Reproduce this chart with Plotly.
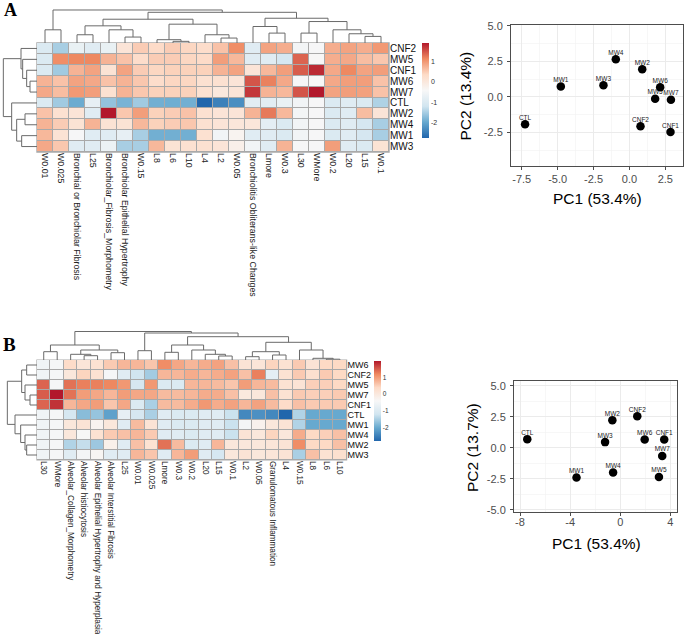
import plotly.graph_objects as go

W, H = 685, 634

# ---------------- data ----------------
a_cols = ["W0.01", "W0.025", "Bronchial or Bronchiolar Fibrosis", "L25",
          "Bronchiolar_Fibrosis_Morphometry", "Bronchiolar Epithelial Hypertrophy",
          "W0.15", "L8", "L6", "L10", "L4", "L2", "W0.05",
          "Bronchiolitis Obliterans-like Changes", "Lmore", "W0.3", "L30", "WMore",
          "W0.2", "L20", "L15", "W0.1"]
a_rows = ["CNF2", "MW5", "CNF1", "MW6", "MW7", "CTL", "MW2", "MW4", "MW1", "MW3"]
a_values = [
    [-1.0, -1.5, -0.7, -0.9, -0.7, 0.1, 0.5, 0.35, 0.5, 0.4, 0.3, 0.6, 1.1, -0.9, 0.9, 0.8, -0.5, -0.45, 0.8, 0.9, 0.8, 1.0],
    [-1.0, 1.1, 1.15, 1.15, 0.75, 0.6, 0.3, 0.5, 0.5, 0.4, 0.35, 0.95, 0.7, -0.9, -0.9, -1.1, 1.4, -0.4, 0.8, 0.85, 0.65, 0.55],
    [-1.0, -1.55, 0.75, 0.9, 0.15, 0.9, 0.5, 0.4, 0.45, 0.45, 0.45, 0.75, 0.9, 0.1, 0.7, 0.95, 1.45, 1.8, 0.85, 1.15, 0.9, 0.95],
    [0.75, 0.6, 0.9, 0.85, 0.6, 0.75, 0.55, 0.3, 0.4, 0.4, 0.2, 0.2, 0.1, 1.5, 1.2, 0.85, -0.45, -0.4, 0.85, 0.95, 0.95, 0.6],
    [0.85, 0.65, 1.0, 0.95, 0.2, 0.75, 0.55, 0.45, 0.45, 0.45, 0.2, 0.0, 0.1, 1.7, 0.75, 0.7, 1.5, 1.92, 0.9, 0.95, 0.92, 0.6],
    [-1.0, -1.55, -1.95, -0.75, -1.65, -1.85, -1.55, -1.9, -1.92, -1.9, -2.76, -2.45, -2.3, -0.85, -0.85, -0.7, -0.55, -0.45, -1.0, -0.9, -1.0, -1.45],
    [0.6, 0.2, 0.1, -0.9, 1.92, 0.55, 0.95, 0.45, 0.5, 0.6, 0.2, 0.1, 0.1, 0.75, 1.25, 0.7, -0.5, -0.45, -1.0, -0.9, 0.65, 0.1],
    [0.75, 0.5, 0.15, 0.75, 0.15, 0.15, 0.7, 0.45, 0.5, 0.55, 0.2, 0.1, 0.05, 0.05, -0.8, -1.0, -0.55, -0.45, -1.0, -0.9, -1.1, -1.5],
    [0.7, 0.15, -0.45, -0.9, -0.9, -0.75, -1.5, -1.9, -1.9, -1.9, 0.2, -0.55, -0.3, -0.9, -0.9, -1.0, -0.55, -0.45, -1.0, -0.9, -1.1, -1.5],
    [0.85, 0.55, -0.9, -0.9, -0.65, -1.5, -1.5, 0.7, 0.15, 0.2, 0.2, 0.1, -0.2, -0.55, -0.9, 0.75, -0.45, -0.45, 0.95, -0.9, -1.0, 0.15],
]
# dendrograms: (merge height, left, right); leaves are column / row indices
a_col_tree = (100, (40, 0, 1),
              (93, (72, (52, (25, 2, 3), (40, 4, (18, 5, 6))),
                        (57, (10, 7, (5, 8, 9)), (25, 10, (15, 11, 12)))),
                   (75, (50, 13, (30, 14, 15)),
                        (65, (30, 16, 17), (40, 18, (28, 19, (20, 20, 21)))))))
a_row_tree = (101, (48, 0, (43, 1, (31, 2, (21, 3, 4)))),
                   (76, 5, (61, (36, 6, 7), (46, 8, 9))))

b_cols = ["L30", "WMore", "Alveolar_Collagen_Morphometry", "Alveolar histiocytosis",
          "Alveolar Epithelial Hypertrophy and Hyperplasia", "Alveolar Interstitial Fibrosis",
          "L25", "W0.01", "W0.025", "Lmore", "W0.3", "W0.2", "L20", "L15", "W0.1", "L2",
          "W0.05", "Granulomatous Inflammation", "L4", "W0.15", "L8", "L6", "L10"]
b_rows = ["MW6", "CNF2", "MW5", "MW7", "CNF1", "CTL", "MW1", "MW4", "MW2", "MW3"]
b_values = [
    [-0.55, -0.45, 0.35, 0.1, 0.2, 0.55, 0.75, 0.75, 0.6, 1.15, 0.9, 0.75, 0.85, 0.95, 0.65, 0.15, 0.1, 0.45, 0.2, 0.55, 0.15, 0.4, 0.4],
    [-0.55, -0.45, 0.05, 0.45, 0.2, -0.45, -0.9, -1.2, -1.55, 0.75, 0.75, 0.85, 0.75, 0.85, 0.95, 0.65, 1.25, -0.8, 0.2, 0.55, 0.25, 0.55, 0.4],
    [1.45, -0.45, 1.35, 1.25, 1.25, 1.2, 1.05, -1.1, 1.05, -1.0, -1.0, 0.75, 0.75, 0.7, 0.6, 1.0, 0.75, 0.7, 0.2, 0.15, 0.5, 0.5, 0.4],
    [1.5, 1.98, 1.35, 1.0, 0.9, 0.75, 1.0, 0.9, 0.9, 0.7, 0.7, 0.75, 0.85, 0.85, 0.65, 0.0, 0.05, 0.65, 0.2, 0.55, 0.5, 0.5, 0.55],
    [1.45, 1.8, 0.75, 0.9, 1.0, 0.6, 0.9, -1.0, -1.5, 0.7, 0.7, 0.85, 1.05, 0.85, 0.95, 0.75, 0.95, 0.7, 0.35, 0.65, 0.55, 0.55, 0.55],
    [-0.55, -0.45, -1.1, -1.75, -1.65, -2.1, -0.75, -1.1, -1.5, -0.9, -1.0, -1.0, -0.9, -0.9, -1.25, -2.4, -2.3, -2.4, -2.8, -1.45, -2.0, -2.0, -2.0],
    [-0.55, -0.45, 0.05, 0.15, -0.3, 0.05, -0.9, 0.7, 0.15, -0.9, -1.0, -1.0, -0.9, -0.9, -1.25, -0.5, -0.25, 0.05, 0.15, -1.45, -2.0, -2.0, -2.0],
    [-0.55, -0.45, 0.05, -0.4, 0.2, 0.55, 0.65, 0.75, 0.55, -0.9, -0.9, -1.0, -0.9, -0.9, -1.25, 0.15, 0.05, 0.45, 0.05, 0.85, 0.4, 0.5, 0.65],
    [-0.55, -0.45, -1.45, -1.3, -1.6, -0.2, -0.9, 0.65, 0.2, 1.35, 0.7, -1.0, -0.9, 0.75, 0.05, 0.05, 0.05, 0.1, 0.15, 1.15, 0.4, 0.4, 0.65],
    [-0.55, -0.45, -0.9, -0.5, -0.35, -0.9, -0.9, 0.75, 0.6, -0.9, 0.75, 1.0, -0.9, -1.1, 0.05, 0.15, 0.05, 0.1, 0.15, -1.5, 0.65, 0.2, 0.25],
]
b_col_tree = (28.5, (15, (8.3, 0, 1), (10, (5.7, 2, (4.3, 3, 4)), (7.3, 5, 6))),
                    (27, (9.3, 7, 8),
                         (23.3, (15, (7.7, 9, 10), (10, 11, (5.7, 12, (4, 13, 14)))),
                                (17.7, (8.3, (3.3, 15, 16), (5, 17, 18)),
                                       (10, 19, (1.7, 20, (0.8, 21, 22)))))))
b_row_tree = (89, (46, (31, 0, 1), (36, 2, (21, 3, 4))),
                  (66, 5, (49, 6, (36, 7, (31, 8, 9)))))

cbar_ticks = [1, 0, -1, -2]

pca_a_labels = ["CTL", "MW1", "MW3", "MW4", "MW2", "MW6", "MW5", "MW7", "CNF2", "CNF1"]
pca_a_pc1 = [-7.27, -4.78, -1.81, -0.95, 0.89, 2.14, 1.79, 2.89, 0.77, 2.86]
pca_a_pc2 = [-1.92, 0.73, 0.82, 2.64, 1.94, 0.68, -0.12, -0.19, -2.06, -2.46]
pca_a_xticks = [-7.5, -5.0, -2.5, 0.0, 2.5]
pca_a_yticks = [-2.5, 0.0, 2.5, 5.0]

pca_b_labels = ["CTL", "MW1", "MW3", "MW2", "MW4", "CNF2", "MW6", "CNF1", "MW7", "MW5"]
pca_b_pc1 = [-7.42, -3.49, -1.21, -0.63, -0.57, 1.36, 1.95, 3.51, 3.35, 3.09]
pca_b_pc2 = [0.70, -2.39, 0.46, 2.23, -1.99, 2.55, 0.67, 0.67, -0.65, -2.34]
pca_b_xticks = [-8, -4, 0, 4]
pca_b_yticks = [-5.0, -2.5, 0.0, 2.5, 5.0]

# ---------------- helpers ----------------
FONT = "Liberation Sans"
rdbu7 = ["#2166AC", "#67A9CF", "#D1E5F0", "#F7F7F7", "#FDDBC7", "#EF8A62", "#B2182B"]
cscale = [[i / 6, c] for i, c in enumerate(rdbu7)]
DCOL = "#6A6A6A"
CELL_BORDER = "#A9A9A9"


def px(p):
    return p / W


def py(p):
    return 1 - p / H


def sfx(i):
    return "" if i == 1 else str(i)


def dendro(tree):
    pos, hts = [], []

    def walk(node):
        if isinstance(node, int):
            return float(node), 0.0
        h, l, r = node
        lx, lh = walk(l)
        rx, rh = walk(r)
        pos.extend([lx, lx, rx, rx, None])
        hts.extend([lh, h, h, rh, None])
        return (lx + rx) / 2, h

    walk(tree)
    return pos, hts


def fmt(v, dec):
    return f"{v:.{dec}f}"


fig = go.Figure()
annotations = []
shapes = []


def add_heatmap(idx, values, rows, cols, col_tree, row_tree, hx0, hx1, hy0, hy1,
                dtop, col_font, row_font, cb_x, cb_y0, cb_y1, cb_font, col_h_max):
    n_c, n_r = len(cols), len(rows)
    s0, s1, s2 = sfx(idx), sfx(idx + 1), sfx(idx + 2)
    flat = [v for r in values for v in r]
    fig.add_trace(go.Heatmap(
        z=values, x=list(range(n_c)), y=list(range(n_r)),
        colorscale=cscale, zmin=min(flat), zmax=max(flat), xgap=1, ygap=1,
        xaxis="x" + s0, yaxis="y" + s0, hoverinfo="skip",
        colorbar=dict(x=px(cb_x), xanchor="left", y=py(cb_y0), yanchor="top",
                      len=cb_y1 - cb_y0, lenmode="pixels", thickness=7,
                      xpad=0, ypad=0, outlinewidth=0, ticks="",
                      tickvals=cbar_ticks, ticktext=[str(t) for t in cbar_ticks],
                      tickfont=dict(size=cb_font, color="#333333", family=FONT)),
    ))
    shapes.append(dict(type="rect", xref=f"x{s0} domain", yref=f"y{s0} domain",
                       x0=-0.002, x1=1.002, y0=-0.006, y1=1.006, layer="below",
                       fillcolor=CELL_BORDER, line=dict(width=0)))
    fig.layout["xaxis" + s0] = dict(
        domain=[px(hx0), px(hx1)], range=[-0.5, n_c - 0.5], anchor="y" + s0,
        tickvals=list(range(n_c)), ticktext=cols, tickangle=90, ticks="",
        showgrid=False, zeroline=False, showline=False,
        tickfont=dict(size=col_font, color="#222222", family=FONT))
    fig.layout["yaxis" + s0] = dict(
        domain=[py(hy1), py(hy0)], range=[n_r - 0.5, -0.5], anchor="x" + s0, side="right",
        tickvals=list(range(n_r)), ticktext=rows, ticks="",
        showgrid=False, zeroline=False, showline=False,
        tickfont=dict(size=row_font, color="#111111", family=FONT))

    # column dendrogram
    cx, ch = dendro(col_tree)
    fig.add_trace(go.Scatter(x=cx, y=ch, mode="lines", line=dict(color=DCOL, width=1),
                             xaxis="x" + s1, yaxis="y" + s1, hoverinfo="skip"))
    fig.layout["xaxis" + s1] = dict(domain=[px(hx0), px(hx1)], range=[-0.5, n_c - 0.5],
                                    anchor="y" + s1, visible=False)
    fig.layout["yaxis" + s1] = dict(domain=[py(hy0), py(dtop)], range=[0, col_h_max],
                                    anchor="x" + s1, visible=False)
    # row dendrogram
    rx, rh = dendro(row_tree)
    fig.add_trace(go.Scatter(x=rh, y=rx, mode="lines", line=dict(color=DCOL, width=1),
                             xaxis="x" + s2, yaxis="y" + s2, hoverinfo="skip"))
    fig.layout["xaxis" + s2] = dict(domain=[0, px(hx0)], range=[111, 0],
                                    anchor="y" + s2, visible=False)
    fig.layout["yaxis" + s2] = dict(domain=[py(hy1), py(hy0)], range=[n_r - 0.5, -0.5],
                                    anchor="x" + s2, visible=False)


def add_pca(idx, xs, ys, labels, xticks, yticks, xdec, ydec, x0, x1, y0, y1,
            xr, yr, xminor, yminor, xtitle, ytitle, xt_pos, yt_pos, xstand):
    s = sfx(idx)
    fig.add_trace(go.Scatter(
        x=xs, y=ys, mode="markers+text", text=labels, textposition="top center",
        marker=dict(size=3, color="rgba(0,0,0,0)"),
        textfont=dict(size=6.5, color="#222222", family=FONT),
        xaxis="x" + s, yaxis="y" + s, hoverinfo="skip", cliponaxis=False))
    fig.add_trace(go.Scatter(
        x=xs, y=ys, mode="markers", marker=dict(size=8.5, color="black"),
        xaxis="x" + s, yaxis="y" + s, hoverinfo="skip", cliponaxis=False))
    common = dict(showline=True, mirror=True, linecolor="#4D4D4D", linewidth=1,
                  ticks="outside", ticklen=3, tickcolor="#4D4D4D", tickwidth=1,
                  showgrid=True, gridcolor="#EBEBEB", gridwidth=1, zeroline=False,
                  tickfont=dict(size=11, color="#4D4D4D", family=FONT))
    fig.layout["xaxis" + s] = dict(
        domain=[px(x0), px(x1)], range=xr, anchor="y" + s,
        tickvals=xticks, ticktext=[fmt(v, xdec) for v in xticks],
        minor=dict(dtick=xminor, tick0=xticks[0], showgrid=True, gridcolor="#F2F2F2",
                   gridwidth=0.6, ticks=""),
        ticklabelstandoff=xstand, **common)
    fig.layout["yaxis" + s] = dict(
        domain=[py(y1), py(y0)], range=yr, anchor="x" + s,
        tickvals=yticks, ticktext=[fmt(v, ydec) for v in yticks],
        minor=dict(dtick=yminor, tick0=yticks[0], showgrid=True, gridcolor="#F2F2F2",
                   gridwidth=0.6, ticks=""),
        ticklabelstandoff=2, **common)
    annotations.append(dict(text=xtitle, x=px(xt_pos[0]), y=py(xt_pos[1]), xref="paper",
                            yref="paper", showarrow=False, xanchor="center", yanchor="middle",
                            font=dict(size=15.5, color="black", family=FONT)))
    annotations.append(dict(text=ytitle, x=px(yt_pos[0]), y=py(yt_pos[1]), xref="paper",
                            yref="paper", showarrow=False, xanchor="center", yanchor="middle",
                            textangle=-90, font=dict(size=15.5, color="black", family=FONT)))


# Panel A
add_heatmap(1, a_values, a_rows, a_cols, a_col_tree, a_row_tree,
            37, 389, 43, 152, 9, 8.8, 10, 422, 43, 138, 7, 103)
add_pca(4, pca_a_pc1, pca_a_pc2, pca_a_labels, pca_a_xticks, pca_a_yticks, 1, 1,
        511, 683, 25, 165.7, [-8.25, 3.73], [-4.82, 5.05], 1.25, 1.25,
        "PC1 (53.4%)", "PC2 (13.4%)", (597, 198), (465.5, 96), 0)
# Panel B
add_heatmap(5, b_values, b_rows, b_cols, b_col_tree, b_row_tree,
            37, 346.6, 360, 460, 330, 8.2, 9, 374, 361, 441, 6.5, 30)
add_pca(8, pca_b_pc1, pca_b_pc2, pca_b_labels, pca_b_xticks, pca_b_yticks, 0, 1,
        514, 677, 381, 512.3, [-8.48, 4.53], [-5.19, 5.38], 2, 1.25,
        "PC1 (53.4%)", "PC2 (13.7%)", (596, 543), (473, 447), -4)

annotations.append(dict(text="<b>A</b>", x=px(10), y=py(10), xref="paper", yref="paper",
                        showarrow=False, xanchor="center", yanchor="middle",
                        font=dict(size=18, color="black", family="Liberation Serif")))
annotations.append(dict(text="<b>B</b>", x=px(9), y=py(345), xref="paper", yref="paper",
                        showarrow=False, xanchor="center", yanchor="middle",
                        font=dict(size=19, color="black", family="Liberation Serif")))

fig.update_layout(
    width=W, height=H, autosize=False, template="none",
    margin=dict(l=0, r=0, t=0, b=0, pad=0),
    paper_bgcolor="white", plot_bgcolor="white", showlegend=False,
    font=dict(family=FONT, color="#222222"),
    annotations=annotations, shapes=shapes,
)

fig.write_html("out.html", config={"displayModeBar": False, "staticPlot": True},
               post_script="document.body.style.margin='0';document.body.style.overflow='hidden';")
